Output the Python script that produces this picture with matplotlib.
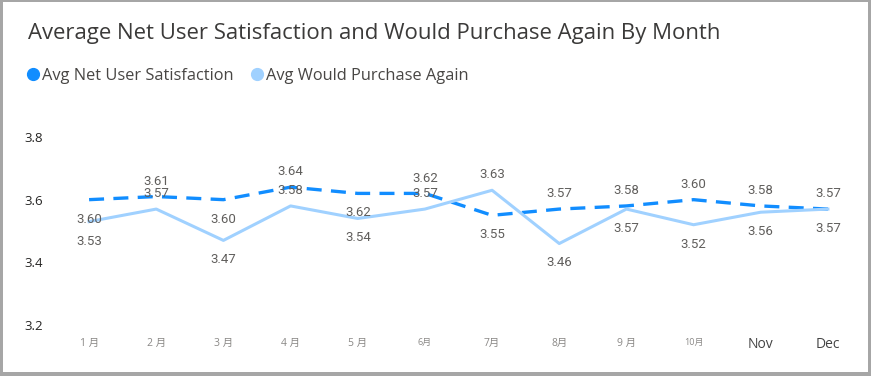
import matplotlib.pyplot as plt
from matplotlib.lines import Line2D
from matplotlib.patches import Rectangle

months = ['1 月', '2 月', '3 月', '4 月', '5 月', '6月', '7月', '8月', '9 月', '10月', 'Nov', 'Dec']
net_satisfaction = [3.60, 3.61, 3.60, 3.64, 3.62, 3.62, 3.55, 3.57, 3.58, 3.60, 3.58, 3.57]
purchase_again = [3.53, 3.57, 3.47, 3.58, 3.54, 3.57, 3.63, 3.46, 3.57, 3.52, 3.56, 3.57]

# label side per point: 1 above, -1 below
net_side = [-1, 1, -1, 1, -1, 1, -1, 1, 1, 1, 1, 1]
buy_side = [-1, 1, -1, 1, -1, 1, 1, -1, -1, -1, -1, -1]

dark_blue = '#118DFF'
light_blue = '#A0D1FF'
label_gray = '#605E5C'

plt.rcParams['font.family'] = ['Open Sans', 'Noto Sans CJK JP', 'DejaVu Sans']

W, H = 871, 376
fig = plt.figure(figsize=(W / 100, H / 100), dpi=100)
fig.patch.set_facecolor('#A6A6A6')
fig.add_artist(Rectangle((3 / W, 4 / H), 865 / W, 370 / H, transform=fig.transFigure,
                         facecolor='white', edgecolor='none', zorder=0))

ax = fig.add_axes([55.5 / W, 1 - 325 / H, 806 / W, 188 / H])
ax.set_facecolor('none')
x = list(range(len(months)))

ax.plot(x, net_satisfaction, color=dark_blue, lw=2.4, ls=(0, (4.5, 2.8)), zorder=2)
ax.plot(x, purchase_again, color=light_blue, lw=2.2, zorder=3)

for i in x:
    for vals, side in ((net_satisfaction, net_side), (purchase_again, buy_side)):
        off = 11 if side[i] > 0 else -14
        ax.annotate(f'{vals[i]:.2f}', (i, vals[i]), xytext=(0, off), textcoords='offset points',
                    ha='center', va='center', fontsize=9.5, color=label_gray,
                    family=['Roboto', 'DejaVu Sans'], zorder=4)

ax.set_xlim(-0.5, 11.5)
ax.set_ylim(3.2, 3.8)
ax.set_yticks([3.2, 3.4, 3.6, 3.8])
ax.set_yticklabels(['3.2', '3.4', '3.6', '3.8'], fontsize=9.5, color='#252423')
ax.set_xticks(x)
ax.set_xticklabels(months)
for i, lab in enumerate(ax.get_xticklabels()):
    if i < 10:
        lab.set_fontsize(6.5 if i in (5, 9) else 7.5)
        lab.set_color('#8A8886')
    else:
        lab.set_fontsize(10)
        lab.set_color('#444444')
ax.tick_params(axis='both', length=0)
ax.tick_params(axis='x', pad=9)
ax.tick_params(axis='y', pad=9)
for s in ax.spines.values():
    s.set_visible(False)

fig.text(28 / W, 1 - 33 / H, 'Average Net User Satisfaction and Would Purchase Again By Month',
         fontsize=15.9, color='#3b3a39', va='center', ha='left')

handles = [Line2D([], [], ls='none', marker='o', markersize=8.5, color=dark_blue),
           Line2D([], [], ls='none', marker='o', markersize=8.5, color=light_blue)]
fig.legend(handles, ['Avg Net User Satisfaction', 'Avg Would Purchase Again'],
           loc='center left', bbox_to_anchor=(25 / W, 1 - 75.5 / H), ncol=2, frameon=False,
           fontsize=11.8, labelcolor='#484644', handletextpad=0.05, columnspacing=0.9,
           handlelength=1.0, borderaxespad=0, borderpad=0)

fig.savefig('out.png', dpi=100, facecolor=fig.get_facecolor())
